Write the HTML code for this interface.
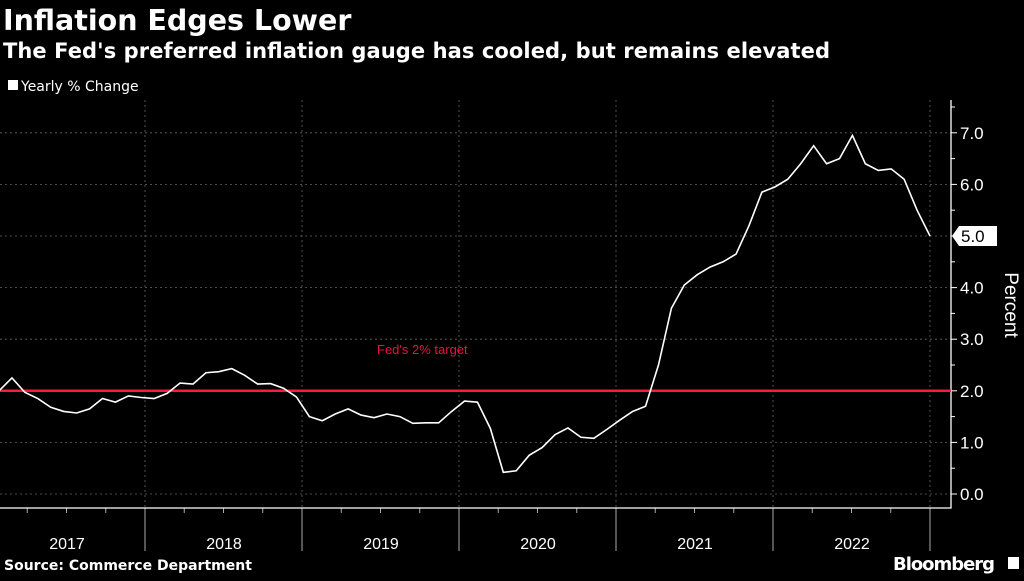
<!DOCTYPE html>
<html><head><meta charset="utf-8"><style>
body{margin:0;background:#000;width:1024px;height:576px;overflow:hidden;font-family:"Liberation Sans",sans-serif}
</style></head><body>
<svg width="1024" height="576" viewBox="0 0 1024 576" id="svg">
<text x="3" y="30" fill="#fff" font-size="28.5" font-weight="bold" font-family="DejaVu Sans">Inflation Edges Lower</text>
<text x="3" y="58" fill="#fff" font-size="21" font-weight="bold" font-family="DejaVu Sans" textLength="827">The Fed's preferred inflation gauge has cooled, but remains elevated</text>
<rect x="8" y="80" width="10" height="10" fill="#fff"/>
<text x="21" y="91" fill="#fff" font-size="14" font-family="DejaVu Sans">Yearly % Change</text>
<g id="grid"></g>
<g id="axes"></g>
<text x="377" y="354" fill="#e8143c" font-size="13">Fed's 2% target</text>
<text transform="translate(1005,305) rotate(90)" fill="#fff" font-size="19" text-anchor="middle">Percent</text>
<text x="4" y="570" fill="#fff" font-size="14" font-weight="bold" font-family="DejaVu Sans">Source: Commerce Department</text>
<text x="893" y="570" fill="#fff" font-size="18" font-weight="bold" font-family="DejaVu Sans" textLength="102">Bloomberg</text>
<rect x="1008" y="557" width="11" height="12" fill="#fff"/>
</svg>
<script>
const years=["2017","2018","2019","2020","2021","2022"];
const yTicks=[0,1,2,3,4,5,6,7];
const target=2.0;
const values=[2.0,2.25,1.97,1.85,1.68,1.6,1.57,1.65,1.85,1.78,1.9,1.87,1.85,1.95,2.15,2.13,2.35,2.37,2.43,2.3,2.13,2.14,2.05,1.88,1.5,1.42,1.55,1.65,1.53,1.48,1.55,1.5,1.37,1.38,1.38,1.6,1.8,1.78,1.27,0.42,0.45,0.75,0.9,1.15,1.28,1.1,1.08,1.25,1.43,1.6,1.7,2.5,3.6,4.05,4.25,4.4,4.5,4.65,5.2,5.85,5.95,6.1,6.4,6.75,6.4,6.5,6.95,6.4,6.27,6.3,6.1,5.5,5.0];
const NS="http://www.w3.org/2000/svg";
const svg=document.getElementById('svg'),grid=document.getElementById('grid'),axes=document.getElementById('axes');
const y=v=>494-v*51.6;
const x=i=>930-(values.length-1-i)*12.93;
const yearEnd=k=>145+k*157;
function mk(tag,attrs,parent){const e=document.createElementNS(NS,tag);for(const k in attrs)e.setAttribute(k,attrs[k]);(parent||svg).appendChild(e);return e;}
yTicks.forEach(t=>{
 const g=mk('line',{x1:0,x2:951,y1:y(t),y2:y(t),stroke:'#666','stroke-dasharray':'2,3','stroke-width':0.8},grid);
 
 
 const tk=mk('line',{x1:951,x2:957,y1:y(t),y2:y(t),stroke:'#fff'},axes);
 
 
 const mt=mk('line',{x1:951,x2:955,y1:y(t+0.5),y2:y(t+0.5),stroke:'#fff'},axes);
 
 
 if(t!==5){const l=mk('text',{x:960,y:y(t)+6,fill:'#fff','font-size':17},axes);l.textContent=t.toFixed(1);
 
 }
});
years.forEach((yr,k)=>{
 const b=yearEnd(k);
 const v=mk('line',{x1:b,x2:b,y1:100,y2:508,stroke:'#666','stroke-dasharray':'2,3','stroke-width':0.8},grid);
 
 
 const d=mk('line',{x1:b,x2:b,y1:508,y2:551,stroke:'#aaa'},axes);
 
 
 for(let q=1;q<4;q++){const qx=b-157+q*39.25;if(qx<0)continue;const qt=mk('line',{x1:qx,x2:qx,y1:508,y2:513,stroke:'#aaa'},axes);
 
 }
 const l=mk('text',{x:b-78,y:549,fill:'#fff','font-size':16,'text-anchor':'middle'},axes);l.textContent=yr;
 
 
});
const ax=mk('path',{d:'M0 508 H951 V100',stroke:'#fff',fill:'none','stroke-width':1.3},axes);


const tl=mk('line',{x1:0,x2:951,y1:y(target),y2:y(target),stroke:'#ff1a3c','stroke-width':2.5});


const pl=mk('polyline',{points:values.map((v,i)=>x(i)+','+y(v)).join(' '),fill:'none',stroke:'#fff','stroke-width':1.6});


const last=values[values.length-1],ly=y(last);
const badge=mk('path',{d:`M952 ${ly} L959 ${ly-10} H997 V${ly+10} H959 Z`,fill:'#fff'});


const bt=mk('text',{x:961,y:ly+6,fill:'#000','font-size':17});bt.textContent=last.toFixed(1);


</script>
</body></html>
